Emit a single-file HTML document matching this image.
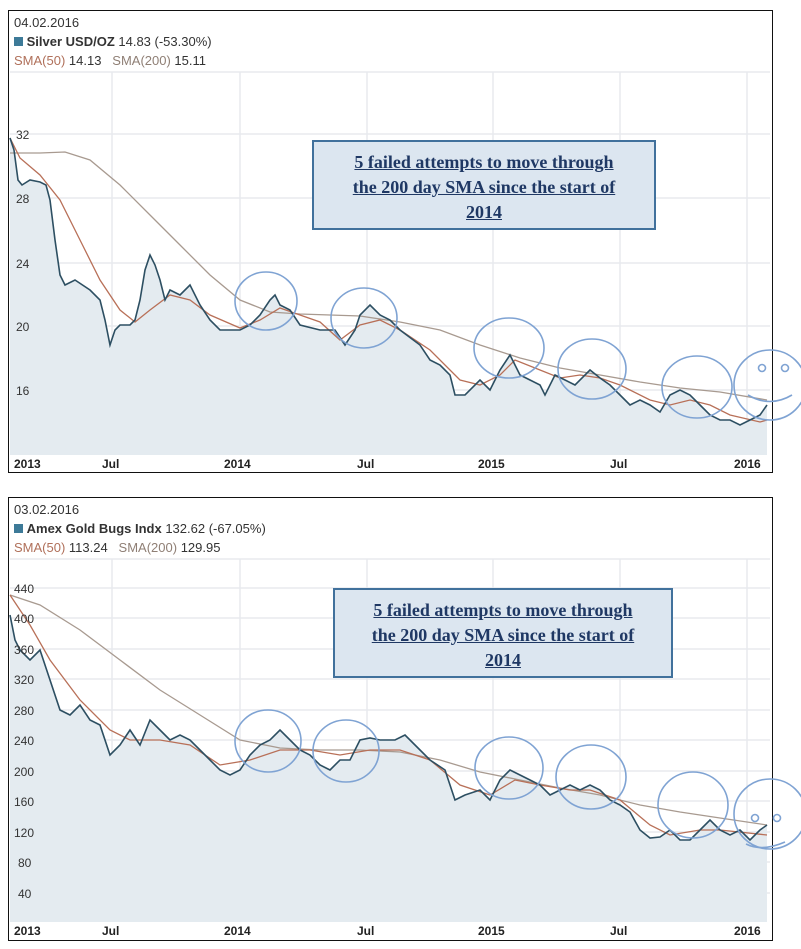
<!DOCTYPE html><html><head><style>
body{margin:0;width:801px;height:949px;background:#fff;position:relative;font-family:"Liberation Sans",sans-serif;overflow:hidden}
.p{position:absolute;border:1.5px solid #111;background:#fff}
.hd{position:absolute;left:6px;font-size:13px;color:#333;line-height:19px}
.b{position:absolute;background:#dce6f0;border:2px solid #41719c;box-sizing:border-box;font-family:"Liberation Serif",serif;font-weight:bold;font-size:18px;color:#1f3864;text-align:center;text-decoration:underline;line-height:25px;padding-top:8px}
svg{position:absolute;left:0;top:0}
</style></head><body>
<div class="p" style="left:8px;top:10px;width:763px;height:461px"></div>
<div class="p" style="left:8px;top:497px;width:763px;height:442px"></div>
<div class="hd" style="left:14px;top:13px">04.02.2016<br><span style="display:inline-block;width:9px;height:9px;background:#3d7a98"></span> <b>Silver USD/OZ</b> 14.83 (-53.30%)<br><span style="color:#b0705a">SMA(50)</span> 14.13 &nbsp;&nbsp;<span style="color:#8f7f75">SMA(200)</span> 15.11</div>
<div class="hd" style="left:14px;top:500px">03.02.2016<br><span style="display:inline-block;width:9px;height:9px;background:#3d7a98"></span> <b>Amex Gold Bugs Indx</b> 132.62 (-67.05%)<br><span style="color:#b0705a">SMA(50)</span> 113.24 &nbsp;&nbsp;<span style="color:#8f7f75">SMA(200)</span> 129.95</div>
<svg width="801" height="949" font-family="Liberation Sans" font-size="12">
<g stroke="#e8eaee" stroke-width="1.5">
<line x1="10" y1="72" x2="770" y2="72"/><line x1="10" y1="559" x2="770" y2="559"/>
<line x1="112" y1="72" x2="112" y2="455"/><line x1="240" y1="72" x2="240" y2="455"/><line x1="367" y1="72" x2="367" y2="455"/><line x1="493" y1="72" x2="493" y2="455"/><line x1="620" y1="72" x2="620" y2="455"/><line x1="747" y1="72" x2="747" y2="455"/>
<line x1="10" y1="134" x2="770" y2="134"/><line x1="10" y1="198" x2="770" y2="198"/><line x1="10" y1="263" x2="770" y2="263"/><line x1="10" y1="326" x2="770" y2="326"/><line x1="10" y1="390" x2="770" y2="390"/>
<line x1="112" y1="559" x2="112" y2="922"/><line x1="240" y1="559" x2="240" y2="922"/><line x1="367" y1="559" x2="367" y2="922"/><line x1="493" y1="559" x2="493" y2="922"/><line x1="620" y1="559" x2="620" y2="922"/><line x1="747" y1="559" x2="747" y2="922"/>
<line x1="10" y1="588" x2="770" y2="588"/><line x1="10" y1="618" x2="770" y2="618"/><line x1="10" y1="649" x2="770" y2="649"/><line x1="10" y1="679" x2="770" y2="679"/><line x1="10" y1="710" x2="770" y2="710"/><line x1="10" y1="740" x2="770" y2="740"/><line x1="10" y1="771" x2="770" y2="771"/><line x1="10" y1="801" x2="770" y2="801"/><line x1="10" y1="832" x2="770" y2="832"/><line x1="10" y1="862" x2="770" y2="862"/><line x1="10" y1="893" x2="770" y2="893"/>
</g>
<polygon fill="#e4ebf0" points="10,138 14,150 18,180 22,185 30,180 40,182 46,185 50,200 55,240 60,275 65,285 75,280 90,290 100,300 105,320 110,345 115,330 120,325 130,325 135,320 140,300 145,270 150,255 155,265 160,280 165,300 170,290 180,295 190,285 200,305 210,320 220,330 240,330 250,325 260,315 270,300 275,295 280,305 290,310 300,325 320,330 335,330 345,345 355,330 360,315 370,305 380,315 390,320 400,330 420,345 430,360 440,365 450,375 455,395 465,395 480,380 490,390 500,370 510,355 520,375 530,380 540,385 545,395 555,375 565,380 575,385 590,370 600,378 610,385 620,395 630,405 640,400 650,405 660,412 670,395 680,390 690,395 700,405 710,415 720,420 730,420 740,425 750,420 760,415 767,405 767,455 10,455"/>
<polygon fill="#e4ebf0" points="10,615 15,640 20,650 30,660 40,650 50,680 60,710 70,715 80,705 90,720 100,725 110,755 120,745 130,730 140,745 150,720 160,730 170,740 180,735 190,740 200,750 210,760 220,770 230,775 240,770 250,755 260,745 270,740 280,730 290,740 300,750 310,755 320,765 330,770 340,760 350,760 360,740 370,738 380,740 395,740 405,735 415,745 430,760 445,770 455,800 465,795 480,790 490,800 500,780 510,770 520,775 530,780 540,785 550,795 560,790 570,785 580,790 590,785 600,790 610,800 620,805 630,812 640,830 650,838 660,837 670,830 680,840 690,840 700,830 710,820 720,830 730,835 740,830 750,840 760,830 767,825 767,922 10,922"/>
<g fill="none" stroke-width="1.3">
<polyline stroke="#a89a90" points="10,153 40,153 65,152 90,160 120,185 150,215 180,245 210,275 240,300 270,312 300,314 330,315 360,316 400,322 440,330 480,345 520,358 560,368 600,375 640,382 680,388 720,392 767,400"/>
<polyline stroke="#b87058" points="10,138 20,158 40,175 60,200 80,240 100,280 120,310 135,322 150,310 170,295 190,300 210,315 240,328 260,320 280,308 300,315 320,322 340,340 360,325 380,320 400,330 430,350 460,380 480,385 500,375 515,360 540,370 560,378 580,375 600,378 620,385 650,400 670,405 690,400 710,405 730,415 760,422 767,420"/>
<polyline stroke="#2d4f62" stroke-width="1.6" points="10,138 14,150 18,180 22,185 30,180 40,182 46,185 50,200 55,240 60,275 65,285 75,280 90,290 100,300 105,320 110,345 115,330 120,325 130,325 135,320 140,300 145,270 150,255 155,265 160,280 165,300 170,290 180,295 190,285 200,305 210,320 220,330 240,330 250,325 260,315 270,300 275,295 280,305 290,310 300,325 320,330 335,330 345,345 355,330 360,315 370,305 380,315 390,320 400,330 420,345 430,360 440,365 450,375 455,395 465,395 480,380 490,390 500,370 510,355 520,375 530,380 540,385 545,395 555,375 565,380 575,385 590,370 600,378 610,385 620,395 630,405 640,400 650,405 660,412 670,395 680,390 690,395 700,405 710,415 720,420 730,420 740,425 750,420 760,415 767,405"/>
<polyline stroke="#a89a90" points="10,595 40,605 80,630 120,660 160,690 200,715 240,740 280,748 320,750 360,750 400,752 440,760 480,772 520,780 560,788 600,795 640,805 680,812 720,818 767,825"/>
<polyline stroke="#b87058" points="10,595 30,625 50,660 80,700 110,730 130,740 160,740 190,745 220,765 250,760 280,750 310,750 340,755 370,750 400,750 430,760 460,785 490,795 515,780 540,785 570,790 590,790 620,800 650,825 670,835 700,830 720,830 767,835"/>
<polyline stroke="#2d4f62" stroke-width="1.6" points="10,615 15,640 20,650 30,660 40,650 50,680 60,710 70,715 80,705 90,720 100,725 110,755 120,745 130,730 140,745 150,720 160,730 170,740 180,735 190,740 200,750 210,760 220,770 230,775 240,770 250,755 260,745 270,740 280,730 290,740 300,750 310,755 320,765 330,770 340,760 350,760 360,740 370,738 380,740 395,740 405,735 415,745 430,760 445,770 455,800 465,795 480,790 490,800 500,780 510,770 520,775 530,780 540,785 550,795 560,790 570,785 580,790 590,785 600,790 610,800 620,805 630,812 640,830 650,838 660,837 670,830 680,840 690,840 700,830 710,820 720,830 730,835 740,830 750,840 760,830 767,825"/>
</g>
<g fill="#333"><text x="16" y="139">32</text><text x="16" y="203">28</text><text x="16" y="268">24</text><text x="16" y="331">20</text><text x="16" y="395">16</text>
<text x="14" y="593">440</text><text x="14" y="623">400</text><text x="14" y="654">360</text><text x="14" y="684">320</text><text x="14" y="715">280</text><text x="14" y="745">240</text><text x="14" y="776">200</text><text x="14" y="806">160</text><text x="14" y="837">120</text><text x="18" y="867">80</text><text x="18" y="898">40</text></g>
<g font-weight="bold" fill="#222"><text x="14" y="468">2013</text><text x="102" y="468">Jul</text><text x="224" y="468">2014</text><text x="357" y="468">Jul</text><text x="478" y="468">2015</text><text x="610" y="468">Jul</text><text x="734" y="468">2016</text>
<text x="14" y="935">2013</text><text x="102" y="935">Jul</text><text x="224" y="935">2014</text><text x="357" y="935">Jul</text><text x="478" y="935">2015</text><text x="610" y="935">Jul</text><text x="734" y="935">2016</text></g>
<g fill="none" stroke="#7fa3d3" stroke-width="1.6">
<ellipse cx="266" cy="301" rx="31" ry="29"/><ellipse cx="364" cy="318" rx="33" ry="30"/><ellipse cx="509" cy="348" rx="35" ry="30"/><ellipse cx="592" cy="369" rx="34" ry="30"/><ellipse cx="697" cy="387" rx="35" ry="31"/><ellipse cx="770" cy="385" rx="36" ry="35"/>
<circle cx="762" cy="368" r="3.5"/><circle cx="785" cy="368" r="3.5"/><path d="M748 395 Q770 408 792 395"/>
<ellipse cx="268" cy="741" rx="33" ry="31"/><ellipse cx="346" cy="751" rx="33" ry="31"/><ellipse cx="509" cy="768" rx="34" ry="31"/><ellipse cx="591" cy="777" rx="35" ry="32"/><ellipse cx="693" cy="805" rx="35" ry="33"/><ellipse cx="770" cy="814" rx="36" ry="35"/>
<circle cx="755" cy="818" r="3.5"/><circle cx="777" cy="818" r="3.5"/><path d="M746 844 Q762 852 785 842"/>
</g>
</svg>
<div class="b" style="left:312px;top:140px;width:344px;height:90px">5 failed attempts to move through<br>the 200 day SMA since the start of<br>2014</div>
<div class="b" style="left:333px;top:588px;width:340px;height:90px">5 failed attempts to move through<br>the 200 day SMA since the start of<br>2014</div>
</body></html>
